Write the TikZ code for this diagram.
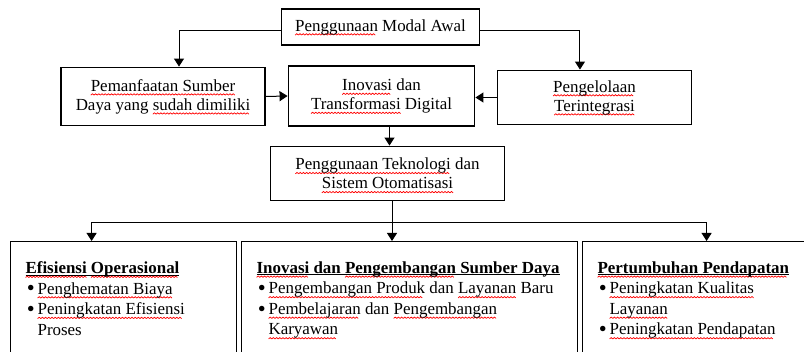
\documentclass[tikz,border=0pt]{standalone}
\usepackage{fontspec}
\setmainfont{Liberation Serif}
\usetikzlibrary{arrows.meta}

% spell-check waves
\newsavebox{\wavebox}
\newsavebox{\sqbox}
\newsavebox{\ulbox}
\AtBeginDocument{\sbox{\wavebox}{\pgfpicture
    \pgfpathrectangle{\pgfpointorigin}{\pgfpoint{2.4pt}{1pt}}\pgfusepath{use as bounding box}
    \pgfsetlinewidth{0.55pt}\pgfsetstrokecolor{red}
    \pgfpathmoveto{\pgfpointorigin}\pgfpathlineto{\pgfpoint{1.2pt}{1pt}}\pgfpathlineto{\pgfpoint{2.4pt}{0pt}}\pgfusepath{stroke}
  \endpgfpicture}}
\newcommand{\sq}[1]{\sbox{\sqbox}{#1}\rlap{\raisebox{-3pt}[0pt][0pt]{\hbox to \wd\sqbox{\leaders\copy\wavebox\hfill}}}#1}
\newcommand{\ul}[1]{\sbox{\ulbox}{#1}\rlap{\rule[-1.4pt]{\wd\ulbox}{0.6pt}}#1}
\newcommand{\bpt}[1]{\par\noindent\hangindent=9pt\hangafter=1\makebox[9pt][l]{\hspace{1pt}\raisebox{-1.3pt}{\fontsize{17}{17}\selectfont\textbullet}}#1}

\begin{document}
\begin{tikzpicture}[x=0.75pt, y=-0.75pt,
    font=\fontsize{12.7}{14.3}\selectfont,
    box/.style={rectangle, draw, line width=0.9pt, align=center, inner sep=2pt},
    panel/.style={rectangle, draw, line width=0.9pt, anchor=north west, inner xsep=11.25pt, inner ysep=15pt, font=\fontsize{12.7}{15.4}\selectfont},
    arrow/.style={-{Triangle[length=6pt, width=7.5pt]}, line width=0.75pt}]

    \useasboundingbox (0,0) rectangle (804,352);
    \clip (0,0) rectangle (804,352);

    \node [box, minimum width=149pt, minimum height=27pt] (modal) at (380.5,27) {\sq{Penggunaan} Modal Awal};
    \node [box, minimum width=153pt, minimum height=44pt] (sumber) at (163,96.5) {\sq{Pemanfaatan Sumber}\\Daya yang \sq{sudah dimiliki}};
    \node [box, minimum width=140pt, minimum height=45pt] (inovasi) at (381.5,96) {\sq{Inovasi} dan\\\sq{Transformasi} Digital};
    \node [box, minimum width=145pt, minimum height=41pt] (kelola) at (594.5,97.5) {\sq{Pengelolaan}\\\sq{Terintegrasi}};
    \node [box, minimum width=176pt, minimum height=41pt] (teknologi) at (387.5,173.5) {\sq{Penggunaan Teknologi} dan\\\sq{Sistem Otomatisasi}};

    \node [panel] (efisiensi) at (10,241) {\begin{minipage}[t][150pt][t]{147pt}
        \textbf{\ul{\sq{Efisiensi} \sq{Operasional}}}
        \bpt{\sq{Penghematan Biaya}}
        \bpt{\sq{Peningkatan Efisiensi}\newline Proses}
    \end{minipage}};
    \node [panel] (pengembangan) at (241,241) {\begin{minipage}[t][150pt][t]{229.5pt}
        \textbf{\ul{\sq{Inovasi} dan \sq{Pengembangan} Sumber Daya}}
        \bpt{\sq{Pengembangan Produk} dan \sq{Layanan} Baru}
        \bpt{\sq{Pembelajaran} dan \sq{Pengembangan}\newline \sq{Karyawan}}
    \end{minipage}};
    \node [panel] (pertumbuhan) at (582,241) {\begin{minipage}[t][150pt][t]{163.5pt}
        \textbf{\ul{\sq{Pertumbuhan Pendapatan}}}
        \bpt{\sq{Peningkatan Kualitas}\newline \sq{Layanan}}
        \bpt{\sq{Peningkatan Pendapatan}}
    \end{minipage}};

    \coordinate (bus) at (392,223);

    \draw [arrow] ([yshift=-3pt]modal.west) -| ([xshift=12pt]sumber.north);
    \draw [arrow] ([yshift=-3pt]modal.east) -| ([xshift=-10.9pt]kelola.north);
    \draw [arrow] (sumber.east) -- (inovasi.west);
    \draw [arrow] (kelola.west) -- (kelola.west -| inovasi.east);
    \draw [arrow] ([xshift=6pt]inovasi.south) -- ([xshift=6pt]inovasi.south |- teknologi.north);
    \draw [line width=0.75pt] (bus |- teknologi.south) -- (bus);
    \draw [arrow] (bus) -| ([xshift=-24pt]efisiensi.north);
    \draw [arrow] (bus) -- (bus |- pengembangan.north);
    \draw [arrow] (bus) -| (pertumbuhan.north);
\end{tikzpicture}
\end{document}
